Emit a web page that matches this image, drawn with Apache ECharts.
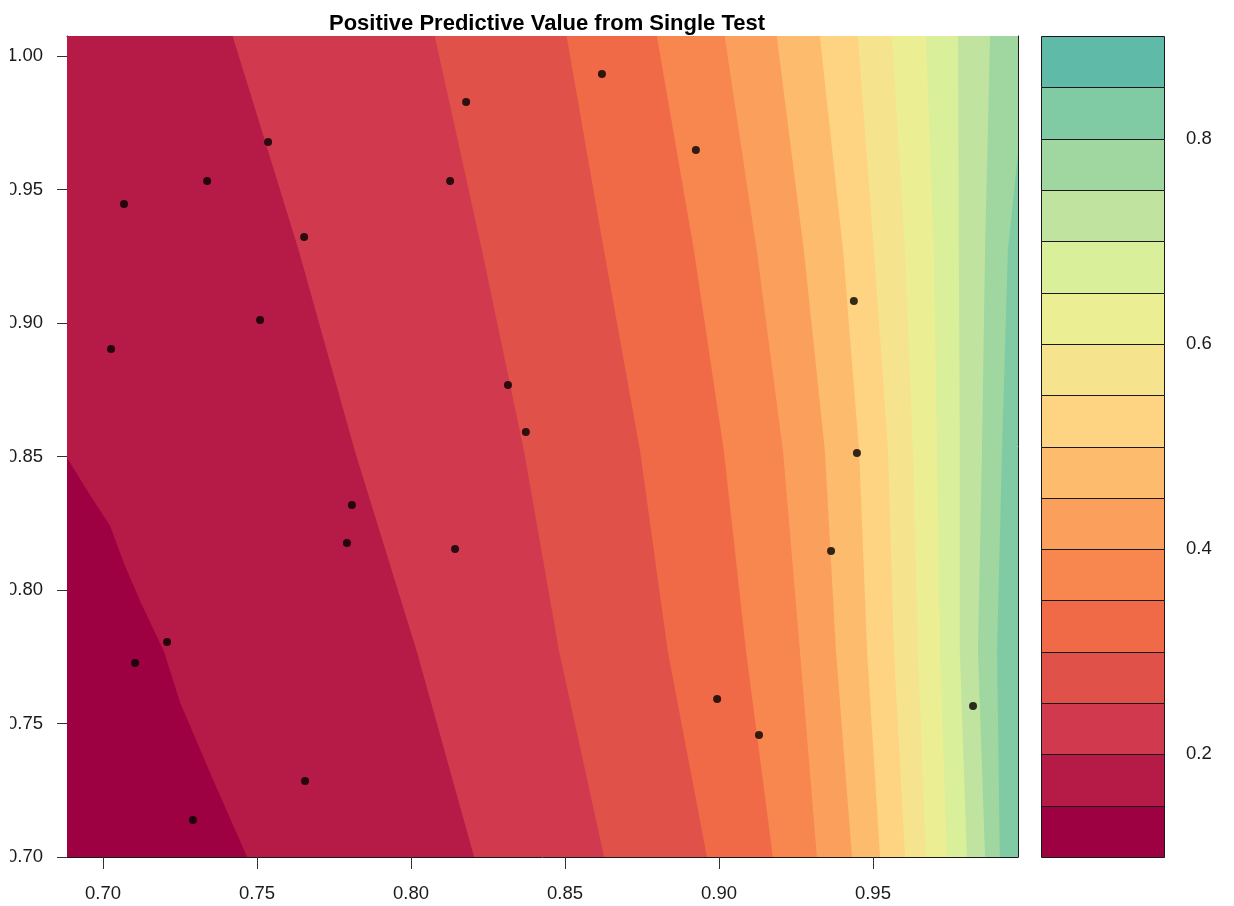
<!DOCTYPE html>
<html><head><meta charset="utf-8">
<script src="https://cdn.jsdelivr.net/npm/echarts@6/dist/echarts.min.js"></script>
<style>html,body{margin:0;padding:0;background:#fff}#c{width:1234px;height:906px}</style>
</head><body><div id="c"></div>
<script>
// ---- data ----
const title = 'Positive Predictive Value from Single Test';
// contour levels (0.10 .. 0.90 by 0.05) and their band colours
const levels = [0.10,0.15,0.20,0.25,0.30,0.35,0.40,0.45,0.50,0.55,0.60,0.65,0.70,0.75,0.80,0.85,0.90];
const bandColors = ['#9E0142','#B61B47','#D13A4E','#E0514A','#F06A48','#F7864F','#FBA05C','#FDBB6D',
                    '#FED381','#F6E38E','#ECEE93','#D9EF9A','#C0E4A0','#A0D6A0','#80CBA4','#5FBAA8'];
// contour line PPV = 0.15 (curved, leaves the plot through the left edge)
const contour015 = [[0.7468,0.700],[0.7357,0.729],[0.7250,0.758],[0.7198,0.777],[0.7120,0.796],[0.7068,0.810],[0.7023,0.824],[0.6950,0.837],[0.6886,0.849],[0.646,0.927],[0.602,1.007]];
// the other contour lines: x (specificity) read at these y (sensitivity) values
const contourY = [0.700, 0.777, 0.852, 0.927, 1.007];
const contourLevels = [0.20,0.25,0.30,0.35,0.40,0.45,0.50,0.55,0.60,0.65,0.70,0.75,0.80];
const contourX = [
  [0.8205,0.8019,0.7818,0.7636,0.7422], // 0.20
  [0.8627,0.8481,0.8367,0.8231,0.8078], // 0.25
  [0.8961,0.8834,0.8744,0.8627,0.8506], // 0.30
  [0.9175,0.9088,0.9016,0.8919,0.8799], // 0.35
  [0.9318,0.9263,0.9208,0.9123,0.9019], // 0.40
  [0.9432,0.9380,0.9344,0.9276,0.9188], // 0.45
  [0.9523,0.9481,0.9455,0.9403,0.9328], // 0.50
  [0.9604,0.9568,0.9549,0.9503,0.9451], // 0.55
  [0.9672,0.9646,0.9630,0.9604,0.9562], // 0.60
  [0.9740,0.9718,0.9708,0.9698,0.9672], // 0.65
  [0.9805,0.9782,0.9782,0.9779,0.9776], // 0.70
  [0.9864,0.9841,0.9854,0.9864,0.9880], // 0.75
  [0.9912,0.9903,0.9919,0.9938,1.0010]  // 0.80
];
// sample points (specificity, sensitivity)
const specificity = [0.7068,0.7338,0.7536,0.7653,0.7510,0.7026,0.8179,0.8127,0.8620,0.8925,0.8315,0.8373,0.7808,
                     0.7792,0.8143,0.9438,0.9448,0.9364,0.7208,0.7104,0.7656,0.7292,0.8994,0.9130,0.9825];
const sensitivity = [0.9446,0.9532,0.9678,0.9322,0.9011,0.8903,0.9828,0.9532,0.9933,0.9648,0.8768,0.8592,0.8318,
                     0.8176,0.8154,0.9082,0.8513,0.8146,0.7805,0.7727,0.7285,0.7139,0.7592,0.7457,0.7566];
const xTicks = [0.70,0.75,0.80,0.85,0.90,0.95];
const yTicks = [0.70,0.75,0.80,0.85,0.90,0.95,1.00];
const barTicks = [0.2,0.4,0.6,0.8];
const xRange = [0.6883, 0.9971];
const yRange = [0.700, 1.0075];

// ---- build ----
const contours = [contour015].concat(contourX.map(xs => xs.map((x,j) => [x, contourY[j]])));
const FONT = "'Liberation Sans', Arial, Helvetica, sans-serif";
const TXT = '#1a1a1a';

// region left of contour k painted with band k colour; drawn from right-most to left-most
const bandData = [];
for (let k = contours.length; k >= 0; k--) bandData.push([k]);
function renderBand(params, api) {
  const k = api.value(0);
  let pts;
  if (k === contours.length) {
    pts = [[0.5,0.6],[1.2,0.6],[1.2,1.1],[0.5,1.1]];
  } else {
    const c = contours[k];
    pts = [[0.5,0.6],[c[0][0],0.6]].concat(c).concat([[c[c.length-1][0],1.1],[0.5,1.1]]);
  }
  return {
    type: 'polygon',
    shape: { points: pts.map(p => api.coord(p)) },
    style: { fill: bandColors[k] }
  };
}
const barData = [];
for (let i = 0; i < levels.length - 1; i++) barData.push([levels[i], levels[i+1], i]);
function renderBar(params, api) {
  const p0 = api.coord([0, api.value(0)]);
  const p1 = api.coord([1, api.value(1)]);
  return {
    type: 'rect',
    shape: { x: Math.round(p0[0]) + 0.5, y: Math.round(p1[1]) + 0.5, width: Math.round(p1[0] - p0[0]), height: Math.round(p0[1]) - Math.round(p1[1]) },
    style: { fill: bandColors[api.value(2)], stroke: '#1a1a1a', lineWidth: 1 }
  };
}

const chart = echarts.init(document.getElementById('c'), null, { renderer: 'canvas' });
chart.setOption({
  animation: false,
  backgroundColor: '#ffffff',
  textStyle: { fontFamily: FONT },
  title: {
    text: title, left: 542, top: 8, textAlign: 'center',
    textStyle: { fontFamily: FONT, fontSize: 22, fontWeight: 'bold', color: '#000' }
  },
  grid: [
    { left: 67, top: 36, width: 951, height: 821 },
    { left: 1041, top: 36, width: 123, height: 821 }
  ],
  xAxis: [
    { gridIndex: 0, type: 'value', min: xRange[0], max: xRange[1], position: 'bottom',
      axisLine: { show: true, onZero: false, lineStyle: { color: '#1a1a1a', width: 1 } },
      axisTick: { show: true, customValues: xTicks, length: 12, lineStyle: { color: '#333' } },
      axisLabel: { show: true, customValues: xTicks, formatter: v => v.toFixed(2), fontSize: 18.5, color: TXT, margin: 27, fontFamily: FONT },
      splitLine: { show: false } },
    { gridIndex: 0, type: 'value', min: xRange[0], max: xRange[1], position: 'top',
      axisLine: { show: true, onZero: false, lineStyle: { color: '#1a1a1a', width: 1 } },
      axisTick: { show: false }, axisLabel: { show: false }, splitLine: { show: false } },
    { gridIndex: 1, type: 'value', min: 0, max: 1, show: false }
  ],
  yAxis: [
    { gridIndex: 0, type: 'value', min: yRange[0], max: yRange[1], position: 'left',
      axisLine: { show: true, onZero: false, lineStyle: { color: '#1a1a1a', width: 1 } },
      axisTick: { show: true, customValues: yTicks, length: 10, lineStyle: { color: '#333' } },
      axisLabel: { show: true, customValues: yTicks, formatter: v => v.toFixed(2), fontSize: 18.5, color: TXT, margin: 24, fontFamily: FONT },
      splitLine: { show: false } },
    { gridIndex: 0, type: 'value', min: yRange[0], max: yRange[1], position: 'right',
      axisLine: { show: true, onZero: false, lineStyle: { color: '#1a1a1a', width: 1 } },
      axisTick: { show: false }, axisLabel: { show: false }, splitLine: { show: false } },
    { gridIndex: 1, type: 'value', min: levels[0], max: levels[levels.length-1], position: 'right',
      axisLine: { show: false },
      axisTick: { show: true, customValues: barTicks, length: 13, lineStyle: { color: '#333' } },
      axisLabel: { show: true, customValues: barTicks, formatter: v => v.toFixed(1), fontSize: 18.5, color: TXT, margin: 22, fontFamily: FONT },
      splitLine: { show: false } }
  ],
  series: [
    { type: 'custom', xAxisIndex: 0, yAxisIndex: 0, clip: true, renderItem: renderBand, data: bandData, z: 1, silent: true },
    { type: 'scatter', xAxisIndex: 0, yAxisIndex: 0, symbol: 'circle', symbolSize: 8,
      itemStyle: { color: '#000' }, data: specificity.map((x,i) => [x, sensitivity[i]]), z: 5, silent: true },
    { type: 'custom', xAxisIndex: 2, yAxisIndex: 2, clip: false, renderItem: renderBar, data: barData, z: 1, silent: true }
  ],
  graphic: [
    { type: 'rect', left: 0, top: 0, shape: { width: 10, height: 906 }, style: { fill: '#fff' }, z: 100, silent: true }
  ]
});
</script></body></html>
